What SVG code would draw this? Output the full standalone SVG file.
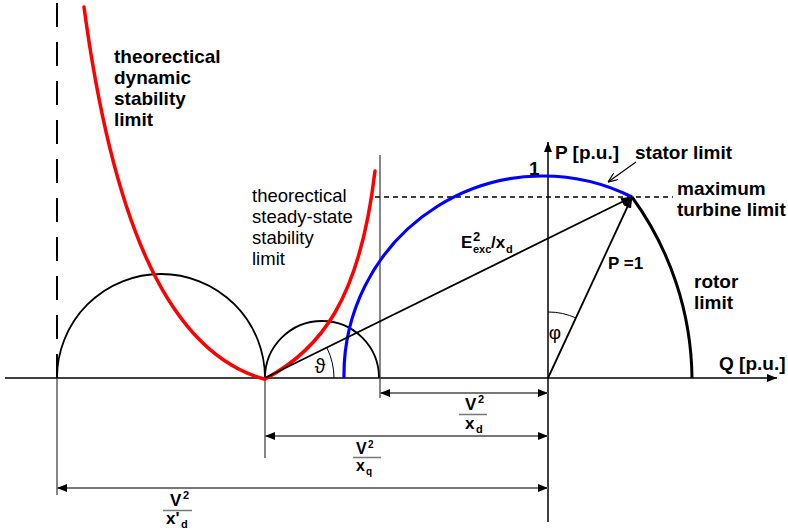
<svg xmlns="http://www.w3.org/2000/svg" width="788" height="531" viewBox="0 0 788 531">
<defs>
<style>
text{font-family:"Liberation Sans",Arial,sans-serif;fill:#000}
.b{font-weight:bold}
.lab{font-size:19px}
.reg{font-size:18.5px}
.thin{stroke:#444;stroke-width:1.3;fill:none}
.ax{stroke:#000;stroke-width:1.5;fill:none}
.dim{stroke:#777;stroke-width:2;fill:none;marker-start:url(#da);marker-end:url(#da)}
.red{stroke:#f00;stroke-width:3.5;fill:none;stroke-linecap:round}
.blk{stroke:#000;stroke-width:1.8;fill:none}
</style>
<marker id="da" viewBox="0 0 10 8" refX="10" refY="4" markerWidth="10" markerHeight="8" markerUnits="userSpaceOnUse" orient="auto-start-reverse"><path d="M0,0L10,4L0,8z" fill="#000"/></marker>
<marker id="ax" viewBox="0 0 10 8" refX="10" refY="4" markerWidth="10" markerHeight="8" markerUnits="userSpaceOnUse" orient="auto"><path d="M0,0L10,4L0,8z" fill="#000"/></marker>
<marker id="va" viewBox="0 0 12 8" refX="11" refY="4" markerWidth="12" markerHeight="8" markerUnits="userSpaceOnUse" orient="auto"><path d="M0,0L12,4L0,8z" fill="#000"/></marker>
<marker id="oa" viewBox="0 0 10 8" refX="10" refY="4" markerWidth="10" markerHeight="8" markerUnits="userSpaceOnUse" orient="auto"><path d="M0,0L10,4L0,8" fill="none" stroke="#000" stroke-width="1.2"/></marker>
</defs>
<rect width="788" height="531" fill="#fff"/>

<g id="connectors">
<g id="axes">
<line class="ax" x1="5" y1="378" x2="777" y2="378" marker-end="url(#ax)"/>
<line class="ax" x1="548" y1="522" x2="548" y2="142" stroke-width="1.3" marker-end="url(#ax)"/>
<line x1="57" y1="3" x2="57" y2="378" stroke="#000" stroke-width="2" stroke-dasharray="24 15"/>
</g>
<g id="guides">
<line class="thin" x1="380" y1="155" x2="380" y2="398"/>
<line class="thin" x1="265" y1="378" x2="265" y2="458"/>
<line class="thin" x1="57" y1="378" x2="57" y2="495"/>
<line x1="375" y1="197" x2="673" y2="197" stroke="#000" stroke-width="1.3" stroke-dasharray="5 4"/>
</g>
<g id="circles">
<path class="blk" stroke-width="1.6" d="M57,378 A104,104 0 0,1 265,378"/>
<path class="blk" stroke-width="1.6" d="M265,378 A57,57 0 0,1 379,378"/>
<path d="M344,378 A199,199 0 0,1 632,197" stroke="#0000ff" stroke-width="3.2" fill="none"/>
<path d="M632,197 A313,313 0 0,1 692,378" stroke="#000" stroke-width="3" fill="none"/>
<path class="red" d="M84,7 C110,200 160,350 264,379"/>
<path class="red" d="M265,379 C320,350 360,300 375,171"/>
</g>
<g id="vectors">
<line class="blk" x1="265" y1="378" x2="632" y2="197" stroke-width="2" marker-end="url(#va)"/>
<line class="blk" x1="548" y1="378" x2="632" y2="197" stroke-width="2" marker-end="url(#va)"/>
<path d="M334,378 A69,69 0 0,0 327,348" stroke="#000" stroke-width="1" fill="none"/>
<path d="M548,312 A66,66 0 0,1 576,318" stroke="#000" stroke-width="1" fill="none"/>
<line x1="636" y1="162" x2="608" y2="182" stroke="#000" stroke-width="1.2" marker-end="url(#oa)"/>
</g>
<g id="dimensions">
<line class="dim" x1="380" y1="393" x2="548" y2="393"/>
<line class="dim" x1="265" y1="436" x2="548" y2="436"/>
<line class="dim" x1="57" y1="488" x2="548" y2="488"/>
</g>
</g>

<g id="label-dynamic" class="b lab">
<text x="114" y="63">theorectical</text>
<text x="114" y="84">dynamic</text>
<text x="114" y="105">stability</text>
<text x="114" y="126">limit</text>
</g>
<g id="label-steady" class="reg">
<text x="252" y="202">theorectical</text>
<text x="252" y="223">steady-state</text>
<text x="252" y="244">stability</text>
<text x="252" y="265">limit</text>
</g>
<g id="label-p-axis" class="b lab">
<text x="555" y="159">P [p.u.]</text>
<text x="529" y="175">1</text>
</g>
<g id="label-stator" class="b lab"><text x="635" y="159">stator limit</text></g>
<g id="label-turbine" class="b lab">
<text x="677" y="195">maximum</text>
<text x="677" y="216">turbine limit</text>
</g>
<g id="label-rotor" class="b lab">
<text x="694" y="288">rotor</text>
<text x="694" y="309">limit</text>
</g>
<g id="label-q-axis" class="b lab"><text x="719" y="370">Q [p.u.]</text></g>
<g id="label-e" class="b">
<text x="461" y="248" font-size="17">E</text>
<text x="473" y="241" font-size="13">2</text>
<text x="473" y="253" font-size="11">exc</text>
<text x="491" y="248" font-size="17">/x</text>
<text x="506" y="253" font-size="11">d</text>
</g>
<g id="label-p1" class="b"><text x="608" y="269" font-size="17">P =1</text></g>
<g id="label-theta"><text x="320" y="373" font-size="20" font-family="'DejaVu Serif',serif" text-anchor="middle">ϑ</text></g>
<g id="label-phi"><text x="555" y="339" font-size="19" font-family="'DejaVu Serif',serif" text-anchor="middle">φ</text></g>

<g id="frac-xd" class="b">
<text x="465" y="410" font-size="17">V</text>
<text x="478" y="403" font-size="11">2</text>
<line x1="459" y1="414.5" x2="487" y2="414.5" stroke="#777" stroke-width="1.5"/>
<text x="465" y="429" font-size="17">x</text>
<text x="476" y="433" font-size="11">d</text>
</g>
<g id="frac-xq" class="b">
<text x="356" y="454" font-size="16">V</text>
<text x="368" y="448" font-size="10">2</text>
<line x1="353" y1="457.5" x2="381" y2="457.5" stroke="#777" stroke-width="1.5"/>
<text x="356" y="471" font-size="16">x</text>
<text x="366" y="475" font-size="10">q</text>
</g>
<g id="frac-xpd" class="b">
<text x="170" y="506" font-size="17">V</text>
<text x="183" y="499" font-size="11">2</text>
<line x1="163" y1="510.5" x2="192" y2="510.5" stroke="#777" stroke-width="1.5"/>
<text x="166" y="524" font-size="17">x'</text>
<text x="181" y="528" font-size="11">d</text>
</g>
</svg>
